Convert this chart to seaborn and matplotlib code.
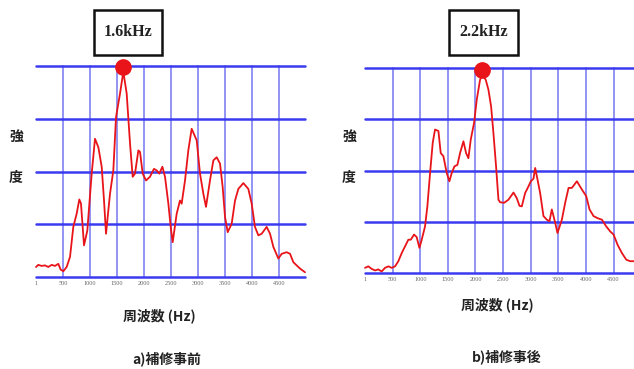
import matplotlib
matplotlib.use("Agg")
import matplotlib.pyplot as plt
import matplotlib.transforms as mtransforms
from matplotlib.patches import Rectangle
import seaborn as sns
import pandas as pd

# ---------------- data ----------------
freq_before = [0, 43, 105, 166, 228, 290, 351, 413, 456, 506, 567, 629, 690, 752, 801, 832,
               888, 949, 1030, 1091, 1153, 1215, 1258, 1295, 1369, 1430, 1480, 1554, 1615,
               1677, 1739, 1788, 1831, 1893, 1924, 1973, 2035, 2108, 2182, 2232, 2281, 2337,
               2386, 2448, 2491, 2528, 2602, 2663, 2694, 2756, 2817, 2879, 2972, 3033, 3095,
               3144, 3218, 3280, 3341, 3403, 3452, 3496, 3545, 3619, 3681, 3742, 3835, 3927,
               3989, 4050, 4112, 4174, 4266, 4328, 4390, 4482, 4544, 4636, 4698, 4760, 4821,
               4883, 4975]
int_before = [0.19, 0.23, 0.21, 0.22, 0.19, 0.23, 0.21, 0.25, 0.14, 0.11, 0.19, 0.38, 0.95,
              1.20, 1.47, 1.39, 0.60, 0.88, 1.96, 2.62, 2.46, 2.09, 1.45, 0.82, 1.58, 2.02,
              3.03, 3.48, 3.89, 3.48, 2.53, 1.90, 1.96, 2.40, 2.37, 1.96, 1.83, 1.90, 2.05,
              2.02, 1.96, 2.09, 1.90, 1.39, 0.95, 0.66, 1.20, 1.45, 1.39, 1.83, 2.40, 2.81,
              2.59, 1.96, 1.58, 1.33, 1.83, 2.21, 2.27, 2.15, 1.71, 1.14, 0.85, 1.01, 1.45,
              1.67, 1.78, 1.67, 1.39, 0.95, 0.79, 0.82, 0.95, 0.82, 0.57, 0.35, 0.44, 0.47,
              0.44, 0.28, 0.22, 0.16, 0.09]

freq_after = [0, 60, 121, 181, 242, 302, 362, 423, 483, 544, 604, 665, 725, 785, 828, 888,
              936, 985, 1027, 1087, 1129, 1178, 1226, 1268, 1329, 1371, 1419, 1480, 1528,
              1570, 1619, 1673, 1721, 1782, 1830, 1872, 1914, 1975, 2023, 2083, 2125, 2186,
              2234, 2283, 2325, 2373, 2416, 2446, 2518, 2597, 2688, 2748, 2797, 2839, 2899,
              2960, 3002, 3050, 3081, 3111, 3171, 3231, 3292, 3340, 3382, 3413, 3443, 3485,
              3564, 3624, 3685, 3745, 3836, 3926, 4005, 4065, 4138, 4210, 4289, 4367, 4440,
              4500, 4573, 4651, 4730, 4802, 4875]
int_after = [0.10, 0.13, 0.08, 0.05, 0.07, 0.03, 0.10, 0.13, 0.10, 0.13, 0.23, 0.39, 0.52,
             0.65, 0.65, 0.75, 0.70, 0.49, 0.65, 0.91, 1.30, 1.95, 2.54, 2.80, 2.77, 2.34,
             2.28, 1.95, 1.79, 1.95, 2.08, 2.11, 2.34, 2.57, 2.34, 2.24, 2.60, 2.93, 3.38,
             3.77, 3.87, 3.77, 3.58, 3.25, 2.73, 2.08, 1.43, 1.38, 1.37, 1.43, 1.57, 1.46,
             1.31, 1.30, 1.56, 1.69, 1.79, 1.84, 2.05, 1.89, 1.56, 1.11, 1.04, 1.01, 1.24,
             1.11, 0.98, 0.78, 1.04, 1.37, 1.66, 1.66, 1.79, 1.63, 1.50, 1.24, 1.11, 1.07,
             1.04, 0.91, 0.81, 0.75, 0.55, 0.39, 0.26, 0.23, 0.23]

peak_before = (1603, 3.98)
peak_after = (2113, 3.97)
peak_labels = ["1.6kHz", "2.2kHz"]

tick_values = [1, 500, 1000, 1500, 2000, 2500, 3000, 3500, 4000, 4500]
tick_labels = ["1", "500", "1000", "1500", "2000", "2500", "3000", "3500", "4000", "4500"]
vgrid_values = [500, 1000, 1500, 2000, 2500, 3000, 3500, 4000, 4500]
hgrid_values = [0, 1, 2, 3, 4]

ylabel_chars = ["強", "度"]
xlabel_text = "周波数 (Hz)"
subtitles = ["a)補修事前", "b)補修事後"]

# ---------------- figure ----------------
sns.set_style("white")
plt.rcParams['font.family'] = ['Noto Sans CJK JP', 'DejaVu Sans']

W, H = 634, 369
fig = plt.figure(figsize=(W / 100, H / 100), dpi=100)

def px_axes(x0, y0, x1, y1):
    return fig.add_axes([x0 / W, 1 - y1 / H, (x1 - x0) / W, (y1 - y0) / H])

ax1 = px_axes(36, 66, 305, 277)
ax2 = px_axes(365, 68, 634, 273)

panels = [
    (ax1, freq_before, int_before, peak_before, 4975),
    (ax2, freq_after, int_after, peak_after, 4870),
]

hcol = "#3a3af0"
vcol = "#8a8af2"
red = "#e8141a"

for ax, fr, it, pk, xmax in panels:
    df = pd.DataFrame({"freq": fr, "intensity": it})
    for v in vgrid_values:
        ax.axvline(v, color=vcol, lw=1.3, zorder=1, clip_on=False)
    for h in hgrid_values:
        ax.axhline(h, color=hcol, lw=1.8, zorder=1, clip_on=False)
    sns.lineplot(data=df, x="freq", y="intensity", ax=ax, color=red, lw=1.3,
                 zorder=3, clip_on=False)
    ax.plot([pk[0]], [pk[1]], marker="o", ms=11, color=red, mec=red, zorder=4,
            clip_on=False)
    ax.set_xlim(0, xmax)
    ax.set_ylim(0, 4)
    ax.set_xticks(tick_values)
    ax.set_xticklabels(tick_labels, fontsize=4.5, color="#666666",
                       family=["Liberation Serif"])
    offset = mtransforms.ScaledTranslation(3 / 100, 0, fig.dpi_scale_trans)
    for lab in ax.get_xticklabels():
        lab.set_transform(lab.get_transform() + offset)
    ax.tick_params(axis="x", length=0, pad=3)
    ax.set_yticks([])
    ax.set_xlabel("")
    ax.set_ylabel("")
    for s in ax.spines.values():
        s.set_visible(False)

# ---------------- texts ----------------
def ftext(x, y, s, **kw):
    fig.text(x / W, 1 - y / H, s, ha="center", va="center", **kw)

jp = dict(fontsize=10, fontweight="bold", color="#222222")
ftext(16, 137, ylabel_chars[0], **jp)
ftext(16, 178, ylabel_chars[1], **jp)
ftext(349, 137, ylabel_chars[0], **jp)
ftext(349, 178, ylabel_chars[1], **jp)

ftext(159, 316, xlabel_text, **jp)
ftext(497, 305, xlabel_text, **jp)
ftext(167, 359, subtitles[0], **jp)
ftext(507, 357, subtitles[1], **jp)

# peak boxes
for (x0, y0, x1, y1), lab in [((94, 10, 162, 55), peak_labels[0]),
                              ((449, 10, 518, 55), peak_labels[1])]:
    fig.patches.append(Rectangle((x0 / W, 1 - y1 / H), (x1 - x0) / W, (y1 - y0) / H,
                                 transform=fig.transFigure, fill=False,
                                 edgecolor="#111111", lw=1.8))
    ftext((x0 + x1) / 2, (y0 + y1) / 2, lab, fontsize=11.5, fontweight="bold",
          color="#222222", family=["Liberation Serif"])

fig.savefig("out.png", dpi=100, facecolor="white")
